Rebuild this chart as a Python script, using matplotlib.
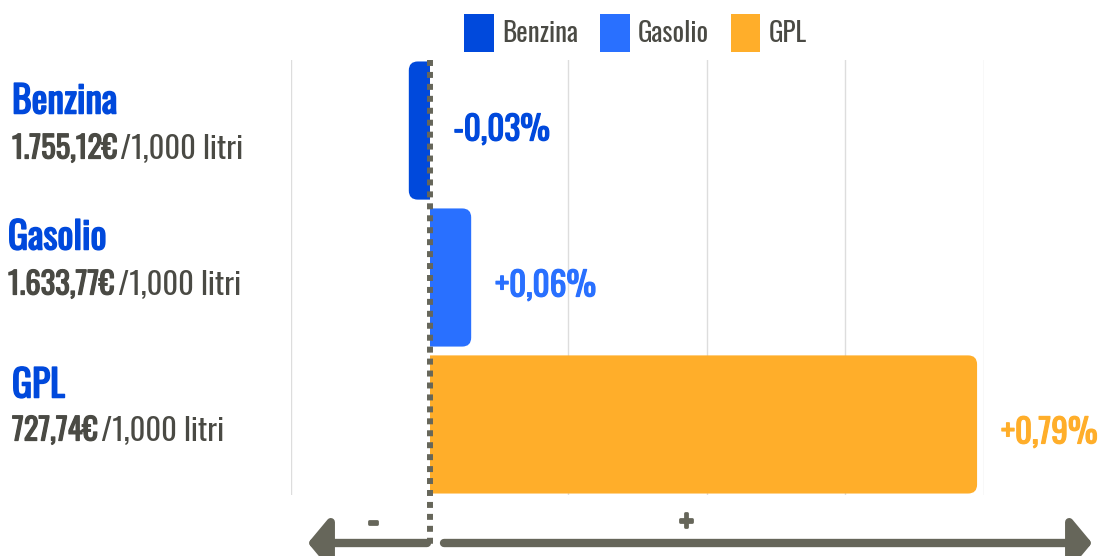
import matplotlib.pyplot as plt
import matplotlib.patheffects as pe
from matplotlib.patches import FancyBboxPatch, Rectangle, Patch, FancyArrowPatch

fuels = ['Benzina', 'Gasolio', 'GPL']
prices = ['1.755,12€', '1.633,77€', '727,74€']
changes = [-0.03, 0.06, 0.79]
change_labels = ['-0,03%', '+0,06%', '+0,79%']
colors = ['#0049DC', '#2970FF', '#FFAE2A']

FONT = ['Oswald', 'DejaVu Sans']
GREY = '#4a4a44'
AXIS_GREY = '#66665a'


def bold(c, w=0.9):
    # Oswald here has a single weight, thicken it with a stroke
    return [pe.withStroke(linewidth=w, foreground=c)]


W, H = 1101, 556
fig = plt.figure(figsize=(W / 100, H / 100), dpi=100)
ax = fig.add_axes([291 / W, 1 - 495 / H, (984 - 291) / W, (495 - 60) / H])
ax.set_xlim(-0.2, 0.8)
ax.set_ylim(2.48, -0.48)
for s in ax.spines.values():
    s.set_visible(False)
ax.set_xticks([])
ax.set_yticks([])
for g in [-0.2, 0.2, 0.4, 0.6, 0.8]:
    ax.axvline(g, color='#dddddd', lw=1, zorder=0)

xpp = 1.0 / (984 - 291)
ypp = 2.96 / (495 - 60)
aspect = ypp / xpp
r = 9 * xpp
bh = 0.94

for i, v in enumerate(changes):
    # rounded box pushed past zero, then clipped so the zero side stays flat
    if v < 0:
        box = FancyBboxPatch((v, i - bh / 2), -v + 2 * r, bh,
                             boxstyle='round,pad=0,rounding_size=%f' % r,
                             mutation_aspect=aspect, fc=colors[i], ec='none', zorder=2)
        clip = Rectangle((v - r, i - bh), -v + r, 2 * bh, transform=ax.transData)
    else:
        box = FancyBboxPatch((-2 * r, i - bh / 2), v + 2 * r, bh,
                             boxstyle='round,pad=0,rounding_size=%f' % r,
                             mutation_aspect=aspect, fc=colors[i], ec='none', zorder=2)
        clip = Rectangle((0, i - bh), v + r, 2 * bh, transform=ax.transData)
    ax.add_patch(box)
    box.set_clip_path(clip)
    lx = max(v, 0) + 24 * xpp
    dy = -1 * ypp if v < 0 else 8 * ypp
    ax.text(lx, i + dy, change_labels[i], color=colors[i], fontsize=24,
            family=FONT, va='center', ha='left', clip_on=False, path_effects=bold(colors[i]))

ax.plot([0, 0], [-0.48, 2.48 + 50 * ypp], color=AXIS_GREY, lw=4.3,
        linestyle=(0, (1, 1)), dash_capstyle='butt', clip_on=False, zorder=3)

fig.canvas.draw()
renderer = fig.canvas.get_renderer()
name_y = [102, 238, 386]
price_y = [149, 285, 431]
name_x = [12, 8, 12]
for i, f in enumerate(fuels):
    fig.text(name_x[i] / W, 1 - name_y[i] / H, f, color=colors[0],
             fontsize=27, family=FONT, va='center', ha='left', path_effects=bold(colors[0], 1.1))
    t = fig.text(name_x[i] / W, 1 - price_y[i] / H, prices[i], color=GREY,
                 fontsize=22, family=FONT, va='center', ha='left', path_effects=bold(GREY))
    bb = t.get_window_extent(renderer)
    fig.text(bb.x1 / W + 3 / W, 1 - price_y[i] / H, '/1,000 litri', color=GREY,
             fontsize=22, family=FONT, va='center', ha='left')

fig.add_artist(FancyArrowPatch((427 / W, 1 - 543 / H), (308 / W, 1 - 543 / H),
                               transform=fig.transFigure, arrowstyle='-|>,head_length=0.5,head_width=0.6',
                               mutation_scale=25, color=AXIS_GREY, lw=6, shrinkA=0, shrinkB=0))
fig.add_artist(FancyArrowPatch((444 / W, 1 - 543 / H), (1092 / W, 1 - 543 / H),
                               transform=fig.transFigure, arrowstyle='-|>,head_length=0.5,head_width=0.6',
                               mutation_scale=25, color=AXIS_GREY, lw=6, shrinkA=0, shrinkB=0))
fig.text(373 / W, 1 - 522 / H, '-', color=AXIS_GREY, fontsize=26,
         family=FONT, ha='center', va='center', path_effects=bold(AXIS_GREY, 2))
fig.text(686 / W, 1 - 523 / H, '+', color=AXIS_GREY, fontsize=24,
         family=FONT, ha='center', va='center', path_effects=bold(AXIS_GREY, 2))

handles = [Patch(fc=c, ec='none') for c in colors]
fig.legend(handles, fuels, loc='center', bbox_to_anchor=(635.5 / W, 1 - 33 / H), ncol=3,
           frameon=False, prop={'family': FONT, 'size': 19.5},
           handlelength=1.1, handleheight=1.75, handletextpad=0.3, columnspacing=0.8, labelcolor=GREY)

fig.savefig('out.png', dpi=100)
